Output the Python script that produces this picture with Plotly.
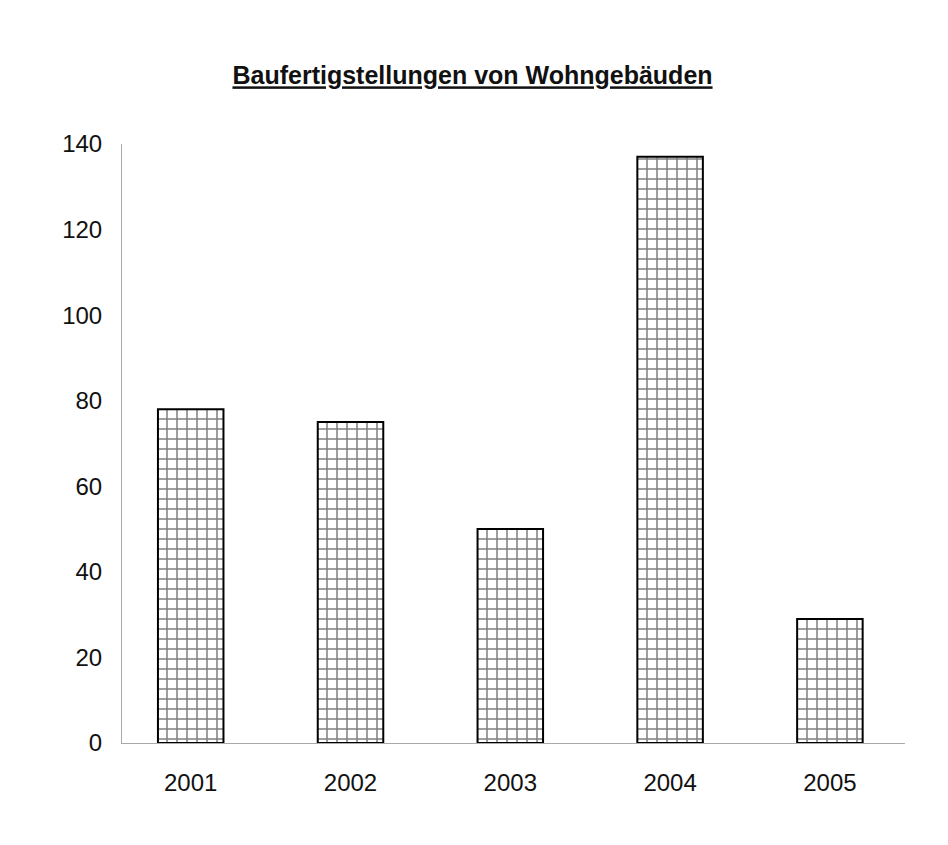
import plotly.graph_objects as go

years = ["2001", "2002", "2003", "2004", "2005"]
values = [78, 75, 50, 137, 29]
y_ticks = [0, 20, 40, 60, 80, 100, 120, 140]

fig = go.Figure(
    go.Bar(
        x=years,
        y=values,
        width=0.41,
        marker=dict(
            color="white",
            line=dict(color="black", width=2),
            pattern=dict(shape="+", size=10, solidity=0.28, fgcolor="#000", bgcolor="white", fillmode="overlay"),
        ),
        hoverinfo="x+y",
    )
)

fig.update_layout(
    width=948,
    height=845,
    paper_bgcolor="white",
    plot_bgcolor="white",
    margin=dict(l=114, r=51, t=136, b=110),
    showlegend=False,
    title=dict(
        text="<u><b>Baufertigstellungen von Wohngebäuden</b></u>",
        font=dict(family="Liberation Sans, Arial, sans-serif", size=25, color="#111"),
        x=0.49, xref="container", xanchor="center",
        y=0.92, yref="container", yanchor="middle",
    ),
    font=dict(family="Liberation Sans, Arial, sans-serif", size=24, color="#111"),
    bargap=0.5,
)

fig.update_xaxes(
    type="category",
    range=[-0.43, 4.47],
    showline=True, linecolor="#aaa", linewidth=1,
    ticks="", showgrid=False, zeroline=False,
    tickfont=dict(size=24, color="#111"),
    ticklabelstandoff=18,
)
fig.update_yaxes(
    range=[0, 140],
    tickvals=y_ticks,
    showline=True, linecolor="#aaa", linewidth=1,
    ticks="", showgrid=False, zeroline=False,
    tickfont=dict(size=24, color="#111"),
    ticklabelstandoff=14,
)

fig.write_html("out.html")
